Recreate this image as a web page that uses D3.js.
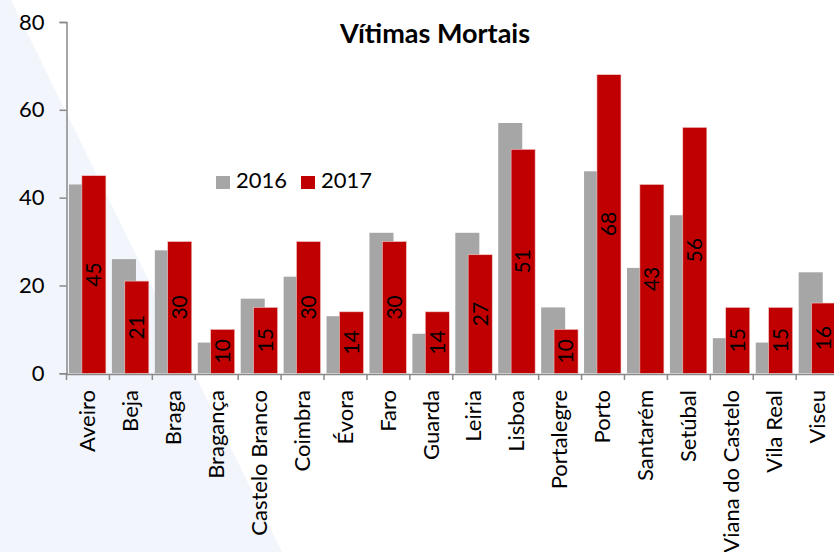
<!DOCTYPE html>
<html>
<head lang="pt">
    <meta charset="UTF-8">
    <title>Vítimas Mortais</title>
    <style>
        body { margin: 0; background: #fff; }
        svg { display: block; font-family: Lato, 'Open Sans', sans-serif; }
    </style>
</head>
<body>

<script src="https://d3js.org/d3.v7.min.js"></script>
<script>

    var districts = ['Aveiro', 'Beja', 'Braga', 'Bragança', 'Castelo Branco', 'Coimbra', 'Évora', 'Faro',
        'Guarda', 'Leiria', 'Lisboa', 'Portalegre', 'Porto', 'Santarém', 'Setúbal', 'Viana do Castelo',
        'Vila Real', 'Viseu'];
    var deaths2016 = [43, 26, 28, 7, 17, 22, 13, 32, 9, 32, 57, 15, 46, 24, 36, 8, 7, 23];
    var deaths2017 = [45, 21, 30, 10, 15, 30, 14, 30, 14, 27, 51, 10, 68, 43, 56, 15, 15, 16];
    var yTicks = [0, 20, 40, 60, 80];
    var seriesNames = ['2016', '2017'];
    var colors = ['#a6a6a6', '#c00000'];

    var w = 834,
        h = 552;

    var svg = d3.select('body')
            .append('svg')
            .attr('width', w)
            .attr('height', h);

    // pale diagonal backdrop on the left
    svg.append('path')
            .attr('d', 'M0,0 L11,0 L282,552 L0,552 Z')
            .attr('fill', '#f2f5fb');

    var x = d3.scaleBand()
            .domain(districts)
            .range([66, 838.6]);

    var y = d3.scaleLinear()
            .domain([0, 80])
            .range([373.3, 22]);

    var bw = x.bandwidth(),
        barW = bw * 0.56,
        shift = bw * 0.30,
        margin = (bw - barW - shift) / 2;

    // 2016 bars
    svg.selectAll('rect.s2016')
            .data(deaths2016)
            .enter()
            .append('rect')
            .attr('class', 's2016')
            .attr('x', function(d, i) { return x(districts[i]) + margin; })
            .attr('y', function(d) { return y(d); })
            .attr('width', barW)
            .attr('height', function(d) { return y(0) - y(d); })
            .attr('fill', colors[0]);

    // 2017 bars
    svg.selectAll('rect.s2017')
            .data(deaths2017)
            .enter()
            .append('rect')
            .attr('class', 's2017')
            .attr('x', function(d, i) { return x(districts[i]) + margin + shift; })
            .attr('y', function(d) { return y(d); })
            .attr('width', barW)
            .attr('height', function(d) { return y(0) - y(d); })
            .attr('fill', colors[1])
            .attr('stroke', '#f0c8c8')
            .attr('stroke-width', 0.6);

    // value labels on 2017 bars
    svg.selectAll('text.val')
            .data(deaths2017)
            .enter()
            .append('text')
            .attr('class', 'val')
            .text(function(d) { return d; })
            .attr('transform', function(d, i) {
                var cx = x(districts[i]) + margin + shift + barW / 2;
                var cy = (y(d) + y(0)) / 2;
                return 'translate(' + cx + ',' + cy + ') rotate(-90)';
            })
            .attr('text-anchor', 'middle')
            .attr('dy', '0.35em')
            .attr('font-size', '21px')
            .attr('fill', '#000');

    // y axis
    var yAxis = svg.append('g')
            .attr('transform', 'translate(66.5,0)')
            .call(d3.axisLeft(y).tickValues(yTicks).tickSize(7).tickPadding(15));
    yAxis.selectAll('path, line').attr('stroke', '#898989').attr('stroke-width', 1.5);
    yAxis.selectAll('text').attr('font-size', '22px').attr('font-family', 'Lato, sans-serif').attr('fill', '#000');

    // x axis with ticks between categories
    var xi = d3.scaleLinear().domain([0, districts.length]).range([66, 838.6]);
    var xAxis = svg.append('g')
            .attr('transform', 'translate(0,' + 374 + ')')
            .call(d3.axisBottom(xi).tickValues(d3.range(districts.length + 1))
                    .tickSize(6).tickSizeOuter(0).tickFormat(''));
    xAxis.selectAll('path, line').attr('stroke', '#898989').attr('stroke-width', 1.5);

    // category labels
    svg.selectAll('text.cat')
            .data(districts)
            .enter()
            .append('text')
            .attr('class', 'cat')
            .text(function(d) { return d; })
            .attr('transform', function(d) {
                return 'translate(' + (x(d) + bw / 2) + ',390) rotate(-90)';
            })
            .attr('text-anchor', 'end')
            .attr('dy', '0.35em')
            .attr('font-size', '22px')
            .attr('fill', '#000');

    // title
    svg.append('text')
            .text('Vítimas Mortais')
            .attr('x', 435)
            .attr('y', 43)
            .attr('text-anchor', 'middle')
            .attr('font-size', '27px')
            .attr('font-weight', 'bold')
            .attr('fill', '#000');

    // legend
    var legend = svg.selectAll('g.legend')
            .data(seriesNames)
            .enter()
            .append('g')
            .attr('class', 'legend')
            .attr('transform', function(d, i) { return 'translate(' + (216 + i * 85) + ',176)'; });
    legend.append('rect')
            .attr('width', 14)
            .attr('height', 13)
            .attr('fill', function(d, i) { return colors[i]; });
    legend.append('text')
            .text(function(d) { return d; })
            .attr('x', 20)
            .attr('y', 12)
            .attr('font-size', '22px')
            .attr('fill', '#000');

</script>
</body>
</html>
